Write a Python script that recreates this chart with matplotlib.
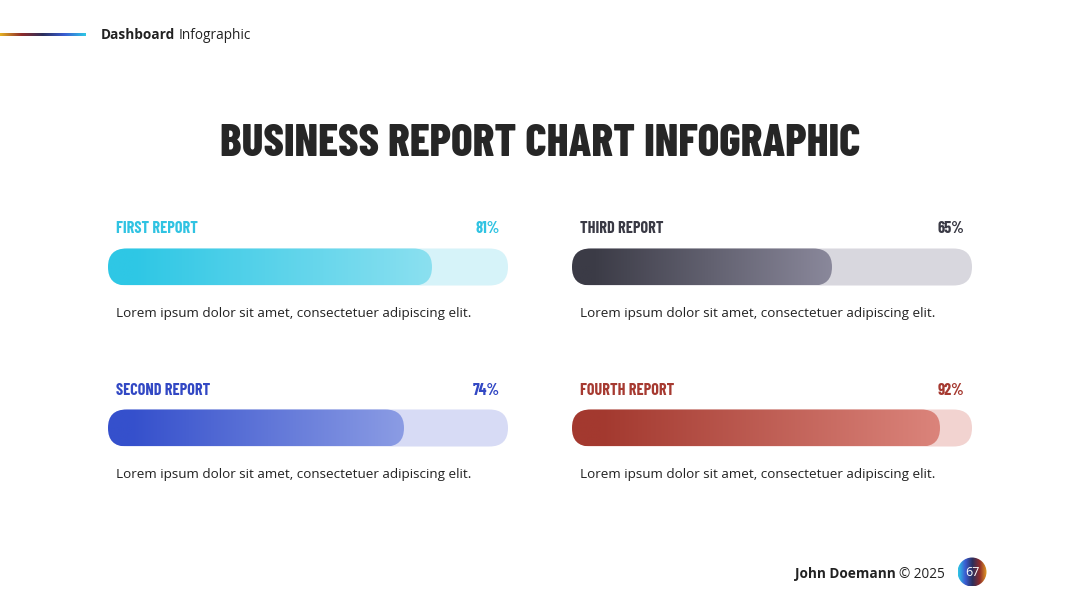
import numpy as np
import matplotlib.pyplot as plt
from matplotlib.patches import FancyBboxPatch, Circle
from matplotlib.colors import to_rgb

# report data
names = ['FIRST REPORT', 'SECOND REPORT', 'THIRD REPORT', 'FOURTH REPORT']
values = [81, 74, 65, 92]
desc = 'Lorem ipsum dolor sit amet, consectetuer adipiscing elit.'

# styling per report
dark_cols = ['#2EC7E5', '#3550CC', '#3B3B46', '#A3392F']
light_cols = ['#8BE0F0', '#8B9CE4', '#8A889B', '#DB847B']
track_cols = ['#D6F3F9', '#D7DBF5', '#D8D7DE', '#F2D3D0']
label_cols = ['#30C3E2', '#3248C4', '#3A3A45', '#A63A31']

W, H = 1080, 608
fig = plt.figure(figsize=(W / 100, H / 100), dpi=100)
ax = fig.add_axes([0, 0, 1, 1])
ax.set_xlim(0, W)
ax.set_ylim(H, 0)
ax.axis('off')

narrow = ['Barlow Condensed', 'DejaVu Sans']
body = ['Open Sans', 'DejaVu Sans']


def gradient(stops, pos=None, n=256):
    stops = [to_rgb(c) for c in stops]
    if pos is None:
        pos = np.linspace(0, 1, len(stops))
    t = np.linspace(0, 1, n)
    arr = np.zeros((1, n, 3))
    for k in range(3):
        arr[0, :, k] = np.interp(t, pos, [s[k] for s in stops])
    return arr


# header line
ax.imshow(gradient(['#E6B324', '#8E2B2B', '#2B2F5C', '#3A5CD2', '#2EC8E6']),
          extent=(0, 86, 36.5, 33.5), aspect='auto', zorder=2)

fig.canvas.draw()
r = fig.canvas.get_renderer()
inv = ax.transData.inverted()

t = ax.text(101, 38.8, 'Dashboard', fontsize=9.8, fontweight='bold', family=body,
            color='#222222', va='baseline', ha='left')
bb = inv.transform(t.get_window_extent(r))
ax.text(bb[1][0] + 3, 38.8, 'Infographic', fontsize=9.8, family=body,
        color='#222222', va='baseline', ha='left')

# title
ax.text(540, 156, 'BUSINESS REPORT CHART INFOGRAPHIC', fontsize=32.5,
        fontweight=800, family=narrow, color='#262626', ha='center', va='baseline')

# bars
bar_w, bar_h = 400, 37
lefts = [108, 108, 572, 572]
label_y = [233, 395, 233, 395]
bar_y = [267, 428, 267, 428]
desc_y = [317, 478, 317, 478]

for i in range(4):
    x0 = lefts[i]
    yc = bar_y[i]
    track = FancyBboxPatch((x0, yc - bar_h / 2), bar_w, bar_h,
                           boxstyle='round,pad=0,rounding_size=18.5',
                           fc=track_cols[i], ec='none', zorder=2)
    ax.add_patch(track)
    fw = bar_w * values[i] / 100
    fill = FancyBboxPatch((x0, yc - bar_h / 2), fw, bar_h,
                          boxstyle='round,pad=0,rounding_size=18.5',
                          fc='none', ec='none', zorder=3)
    ax.add_patch(fill)
    im = ax.imshow(gradient([dark_cols[i], dark_cols[i], light_cols[i]], pos=[0, 0.08, 1]),
                   extent=(x0, x0 + fw, yc + bar_h / 2, yc - bar_h / 2),
                   aspect='auto', zorder=3)
    im.set_clip_path(fill)

    ax.text(x0 + 8, label_y[i], names[i], fontsize=11.7, fontweight='bold',
            family=narrow, color=label_cols[i], ha='left', va='baseline')
    ax.text(x0 + bar_w - 8, label_y[i], f'{values[i]}%', fontsize=11.7,
            fontweight='bold', family=narrow, color=label_cols[i],
            ha='right', va='baseline')
    ax.text(x0 + 8, desc_y[i], desc, fontsize=9.7, family=body,
            color='#222222', ha='left', va='baseline')

# footer
t2 = ax.text(945, 578, '© 2025', fontsize=9.8, family=body, color='#222222',
             ha='right', va='baseline')
bb2 = inv.transform(t2.get_window_extent(r))
ax.text(bb2[0][0] - 3, 578, 'John Doemann', fontsize=9.8, fontweight='bold',
        family=body, color='#222222', ha='right', va='baseline')

circ = Circle((972, 572), 14.5, fc='none', ec='none', zorder=4)
ax.add_patch(circ)
cim = ax.imshow(gradient(['#2EC8E6', '#3A5CD2', '#2B2F5C', '#8E2B2B', '#E6A024']),
                extent=(957.5, 986.5, 586.5, 557.5), aspect='auto', zorder=4)
cim.set_clip_path(circ)
ax.text(972, 572.5, '67', fontsize=9, family=body, color='white',
        ha='center', va='center', zorder=5)

ax.set_xlim(0, W)
ax.set_ylim(H, 0)
fig.savefig('out.png', dpi=100, facecolor='white')
